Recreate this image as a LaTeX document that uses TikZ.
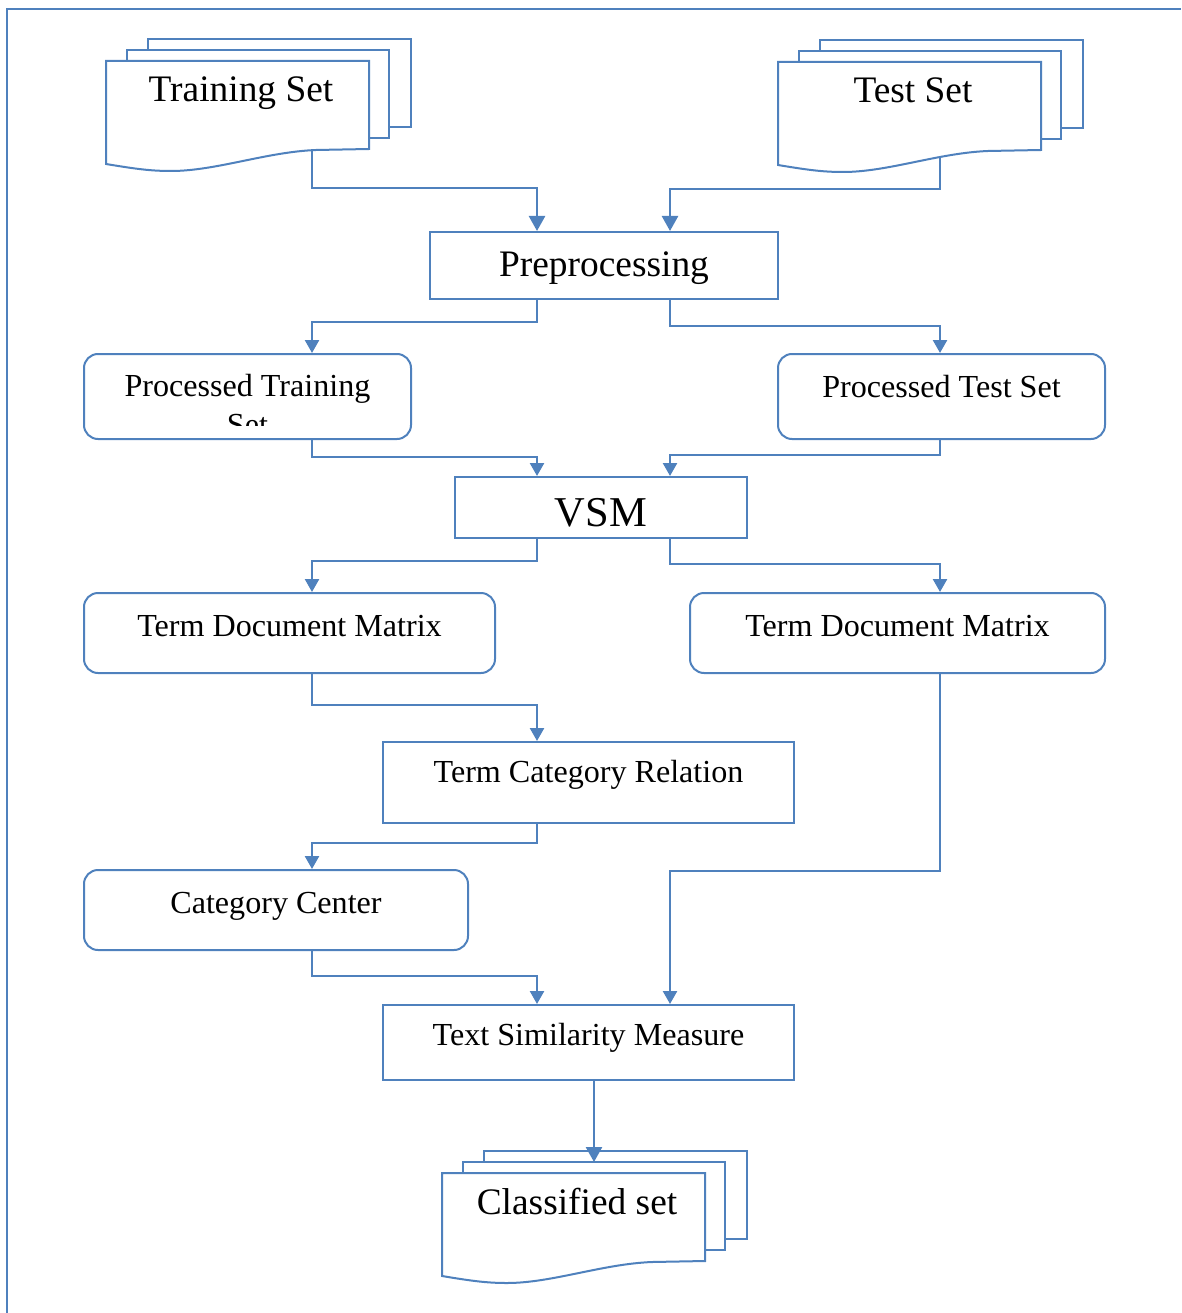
\documentclass[tikz,border=0pt]{standalone}
\usepackage{fontspec}
\setmainfont{Liberation Serif}
\usetikzlibrary{arrows.meta,calc}
\definecolor{edge}{HTML}{4F81BD}

% stacked "multiple documents" symbol: name, left x, top y, label
\newcommand\multidoc[4]{%
  \draw[page] ({#2+42},{#3-22}) rectangle ({#2+305},{#3+66});
  \draw[page] ({#2+21},{#3-11}) rectangle ({#2+283},{#3+77});
  \draw[page] (#2,#3) -- ({#2+263},#3) -- ({#2+263},{#3+88}) -- ({#2+210},{#3+89})
    .. controls ({#2+160},{#3+91}) and ({#2+110},{#3+110}) .. ({#2+65},{#3+110})
    .. controls ({#2+45},{#3+110}) and ({#2+30},{#3+108}) .. (#2,{#3+103}) -- cycle;
  \node[bigtxt, anchor=base] (#1) at ({#2+135},{#3+41}) {#4};
}

\begin{document}
\begin{tikzpicture}[x=1pt, y=-1pt,
  page/.style={draw=edge, line width=2pt, fill=white},
  box/.style={draw=edge, line width=2pt, fill=white, inner sep=0pt, rectangle},
  rbox/.style={box, rounded corners=14pt},
  txt/.style={inner sep=0pt, font=\fontsize{32.1}{38}\selectfont},
  bigtxt/.style={inner sep=0pt, font=\fontsize{37.4}{44}\selectfont},
  hugetxt/.style={inner sep=0pt, font=\fontsize{42.5}{50}\selectfont},
  conn/.style={draw=edge, line width=2.5pt, -{Triangle[width=14pt,length=13pt]}},
  bigconn/.style={conn, -{Triangle[width=16pt,length=15pt]}},
  frame/.style={draw=edge, line width=2pt}]

\useasboundingbox (0,0) rectangle (1181,1313);

% outer frame
\draw[frame] (7,1313) -- (7,9) -- (1181,9);

% column guides for the connectors
\coordinate (colL) at (312,0);
\coordinate (colCL) at (537,0);
\coordinate (colM) at (594,0);
\coordinate (colCR) at (670,0);
\coordinate (colR) at (940,0);

% input document sets
\multidoc{train}{106}{61}{Training Set}
\multidoc{test}{778}{62}{Test Set}
\coordinate (trout) at (312,150);
\coordinate (teout) at (940,158);

% process boxes
\node[box, minimum width=348pt, minimum height=67pt] (prep) at (604,265.5) {};
\node[bigtxt, anchor=base] (prept) at (604,277) {Preprocessing};

\node[rbox, minimum width=327pt, minimum height=85pt] (ptr) at (247.5,396.5) {};
\begin{scope}
  \clip (84,354) rectangle (411,425);
  \node[txt, anchor=base] (ptrt) at (247.5,396) {Processed Training};
  \node[txt, anchor=base] (ptrt2) at (247.5,435) {Set};
\end{scope}

\node[rbox, minimum width=327pt, minimum height=85pt] (pte) at (941.5,396.5) {};
\node[txt, anchor=base] (ptet) at (941.5,397) {Processed Test Set};

\node[box, minimum width=292pt, minimum height=61pt] (vsm) at (601,507.5) {};
\node[hugetxt, anchor=base] (vsmt) at (601,526) {VSM};

\node[rbox, minimum width=411pt, minimum height=80pt] (tdl) at (289.5,633) {};
\node[txt, anchor=base] (tdlt) at (289.5,636) {Term Document Matrix};

\node[rbox, minimum width=415pt, minimum height=80pt] (tdr) at (897.5,633) {};
\node[txt, anchor=base] (tdrt) at (897.5,636) {Term Document Matrix};

\node[box, minimum width=411pt, minimum height=81pt] (tcr) at (588.5,782.5) {};
\node[txt, anchor=base] (tcrt) at (588.5,782) {Term Category Relation};

\node[rbox, minimum width=384pt, minimum height=80pt] (cc) at (276,910) {};
\node[txt, anchor=base] (cct) at (276,913) {Category Center};

\node[box, minimum width=411pt, minimum height=75pt] (tsm) at (588.5,1042.5) {};
\node[txt, anchor=base] (tsmt) at (588.5,1045) {Text Similarity Measure};

% output document set
\multidoc{cls}{442}{1173}{Classified set}
\coordinate (clsin) at (594,1162);

% connectors
\draw[bigconn] (trout) -- ++(0,38) -| (colCL |- prep.north);
\draw[bigconn] (teout) -- ++(0,31) -| (colCR |- prep.north);
\draw[conn] (colCL |- prep.south) -- ++(0,22) -| (colL |- ptr.north);
\draw[conn] (colCR |- prep.south) -- ++(0,26) -| (colR |- pte.north);
\draw[conn] (colL |- ptr.south) -- ++(0,17) -| (colCL |- vsm.north);
\draw[conn] (colR |- pte.south) -- ++(0,15) -| (colCR |- vsm.north);
\draw[conn] (colCL |- vsm.south) -- ++(0,22) -| (colL |- tdl.north);
\draw[conn] (colCR |- vsm.south) -- ++(0,25) -| (colR |- tdr.north);
\draw[conn] (colL |- tdl.south) -- ++(0,31) -| (colCL |- tcr.north);
\draw[conn] (colCL |- tcr.south) -- ++(0,19) -| (colL |- cc.north);
\draw[conn] (colL |- cc.south) -- ++(0,25) -| (colCL |- tsm.north);
\draw[conn] (colR |- tdr.south) -- ++(0,197) -| (colCR |- tsm.north);
\draw[bigconn] (colM |- tsm.south) -- (clsin);

\end{tikzpicture}
\end{document}
